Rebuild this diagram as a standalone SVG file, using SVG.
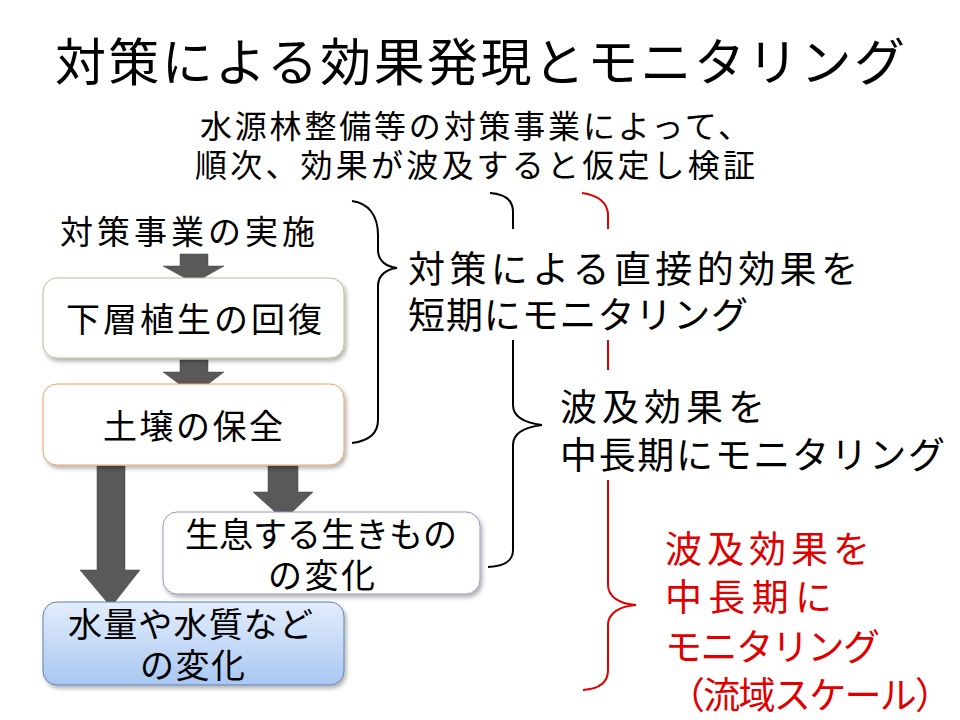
<svg xmlns="http://www.w3.org/2000/svg" width="960" height="720" viewBox="0 0 960 720">
<defs>
<linearGradient id="blue" x1="0" y1="0" x2="0" y2="1"><stop offset="0" stop-color="#e3edfc"/><stop offset="1" stop-color="#a9c7f2"/></linearGradient>
<filter id="sh" x="-10%" y="-10%" width="120%" height="130%"><feDropShadow dx="2" dy="3" stdDeviation="2" flood-opacity="0.3"/></filter>
</defs>
<style>
text{font-family:"Noto Sans CJK JP","Noto Sans CJK SC",sans-serif;fill:#000}
.box{fill:#fff;stroke-width:1;filter:url(#sh)}
.arr{fill:#595959;stroke:#404040;stroke-width:0.5}
.br{fill:none;stroke:#000;stroke-width:2}
.red{stroke:#e00000}
.t32{font-size:34px}
.r{font-size:37px}
.rd{fill:#e00000}
</style>
<rect width="960" height="720" fill="#fff"/>
<text x="55" y="81" font-size="51" textLength="850" lengthAdjust="spacing">対策による効果発現とモニタリング</text>
<text x="200" y="138" font-size="32" textLength="550" lengthAdjust="spacing">水源林整備等の対策事業によって、</text>
<text x="195" y="177" font-size="32" textLength="560" lengthAdjust="spacing">順次、効果が波及すると仮定し検証</text>
<g id="connectors">
<path class="arr" d="M180,254H208V266H224L194,283L163,266H180Z"/>
<path class="arr" d="M180,360H208V372H224L194,395L163,372H180Z"/>
<path class="arr" d="M97,466H125V570H140L111,607L80,570H97Z"/>
<path class="arr" d="M268,466H298V492H313L284,520L253,492H268Z"/>
</g>
<g id="start"><text x="60" y="244" font-size="33" textLength="255" lengthAdjust="spacing">対策事業の実施</text></g>
<g id="n1"><rect class="box" x="43" y="278" width="301" height="80" rx="14" stroke="#b5c28e"/><text class="t32" x="66" y="332" textLength="256" lengthAdjust="spacing">下層植生の回復</text></g>
<g id="n2"><rect class="box" x="43" y="384" width="301" height="81" rx="14" stroke="#f0a060"/><text class="t32" x="103" y="439" textLength="180" lengthAdjust="spacing">土壌の保全</text></g>
<g id="n3"><rect class="box" x="163" y="512" width="317" height="82" rx="14" stroke="#a090c0"/><text class="t32" x="185" y="547" textLength="272" lengthAdjust="spacing">生息する生きもの</text><text class="t32" x="268" y="588" textLength="107" lengthAdjust="spacing">の変化</text></g>
<g id="n4"><rect class="box" x="43" y="602" width="301" height="83" rx="14" stroke="#6080b0" style="fill:url(#blue)"/><text class="t32" x="68" y="637" textLength="245" lengthAdjust="spacing">水量や水質など</text><text class="t32" x="140" y="678" textLength="105" lengthAdjust="spacing">の変化</text></g>
<g id="braces">
<path class="br" d="M352,201C368,203 378,215 378,235V250C378,262 388,267 397,268C388,269 378,274 378,286V420C378,434 368,441 352,443"/>
<path class="br" d="M490,193C505,194 513,200 513,212V229M513,340V405C513,417 526,423 542,425C526,427 513,433 513,445V550C513,561 505,566 488,567"/>
<path class="br red" d="M582,193C598,195 608,203 608,215V229M608,340V370M608,480V585C608,597 620,604 636,605C620,606 608,613 608,625V670C608,683 598,689 583,690"/>
</g>
<g id="labels">
<text class="r" x="408" y="283" textLength="450" lengthAdjust="spacing">対策による直接的効果を</text>
<text class="r" x="408" y="329" textLength="340" lengthAdjust="spacing">短期にモニタリング</text>
<text class="r" x="560" y="421" textLength="205" lengthAdjust="spacing">波及効果を</text>
<text class="r" x="560" y="469" textLength="385" lengthAdjust="spacing">中長期にモニタリング</text>
<text class="r rd" x="665" y="563" textLength="205" lengthAdjust="spacing">波及効果を</text>
<text class="r rd" x="665" y="611" textLength="167" lengthAdjust="spacing">中長期に</text>
<text class="r rd" x="665" y="661" textLength="215" lengthAdjust="spacing">モニタリング</text>
<text class="r rd" x="668" y="709" textLength="284" lengthAdjust="spacing">（流域スケール）</text>
</g>
</svg>
